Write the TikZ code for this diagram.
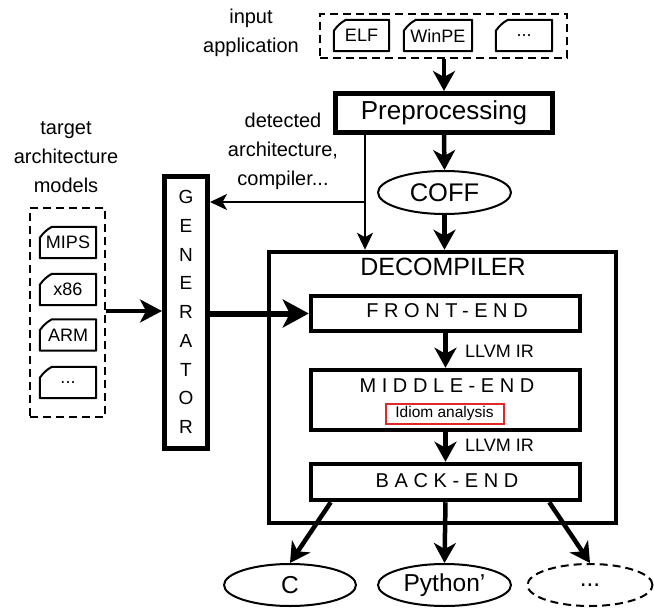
\documentclass[tikz,border=0pt]{standalone}
\usepackage{fontspec}
\setmainfont{Liberation Sans}
\usetikzlibrary{arrows.meta,shapes.geometric}
\definecolor{idiomred}{RGB}{225,40,40}
\begin{document}
\begin{tikzpicture}[x=1pt,y=-1pt,
  lbl/.style={font=\fontsize{20}{29}\selectfont, align=center, inner sep=0},
  docbox/.style={minimum width=56pt, minimum height=31pt, inner sep=0, font=\fontsize{18}{20}\selectfont},
  dashbox/.style={draw, line width=2pt, dash pattern=on 8pt off 5pt, inner sep=0},
  heavybox/.style={draw, line width=4.5pt, inner sep=0},
  stagebox/.style={draw, line width=4.5pt, inner sep=0, minimum width=269pt},
  spaced/.style={font=\fontsize{20}{24}\selectfont\addfontfeature{LetterSpace=28}, inner sep=0},
  oval/.style={draw, ellipse, line width=2pt, minimum width=133pt, minimum height=43pt, inner sep=0, font=\fontsize{24.5}{28}\selectfont},
  bigarrow/.style={line width=4.5pt, -{Stealth[length=20pt, width=22pt, inset=6pt]}},
  hugearrow/.style={line width=6pt, -{Stealth[length=26pt, width=28pt, inset=7pt]}},
  midarrow/.style={line width=3.5pt, -{Stealth[length=22pt, width=23pt, inset=6pt]}},
  thinarrow/.style={line width=2pt, -{Stealth[length=17pt, width=16pt, inset=4.5pt]}},
  irlbl/.style={font=\fontsize{18}{20}\selectfont, anchor=west, inner sep=0}
]
\useasboundingbox (0,0) rectangle (654,608);

% input application
\node[lbl] (inlbl) at (251,33) {input\\application};
\node[dashbox, minimum width=247pt, minimum height=44pt] (inbox) at (443.5,36) {};
\node[docbox, minimum width=55pt] (elf) at (361.5,35.5) {ELF};
\node[docbox, minimum width=68pt] (winpe) at (438,35.5) {WinPE};
\node[docbox] (dots1) at (524,35.5) {...};

% target models
\node[lbl] (tlbl) at (66,157) {target\\architecture\\models};
\node[dashbox, minimum width=75pt, minimum height=209pt] (tbox) at (67.5,312.5) {};
\node[docbox] (mips) at (68,242.5) {MIPS};
\node[docbox] (x86) at (68,289.5) {x86};
\node[docbox] (arm) at (68,335) {ARM};
\node[docbox] (dots2) at (68,382.5) {...};

\foreach \d in {elf,winpe,dots1,mips,x86,arm,dots2}{
  \draw[line width=2pt, line join=round]
    (\d.south west) -- (\d.south east) -- (\d.north east)
    -- ([xshift=12pt]\d.north west)
    to[bend right=12] ([yshift=-11pt]\d.north west) -- cycle;
}

% preprocessing
\node[heavybox, line width=5pt, minimum width=217pt, minimum height=39pt,
      font=\fontsize{26}{30}\selectfont] (prep) at (444,113) {Preprocessing};
\node[oval] (coff) at (444.5,192.5) {\fontsize{25.5}{28}\selectfont COFF};
\node[lbl] (detlbl) at (283,151) {detected\\architecture,\\compiler...};

% generator
\node[heavybox, line width=5pt, minimum width=43pt, minimum height=272pt] (gen) at (186,312.5) {};
\node[align=center, inner sep=0, font=\fontsize{19}{28.75}\selectfont] (gentxt) at (186,312)
  {G\\E\\N\\E\\R\\A\\T\\O\\R};

% decompiler
\node[heavybox, minimum width=347pt, minimum height=271pt] (dec) at (442.5,387.5) {};
\node[inner sep=0, font=\fontsize{25}{28}\selectfont] (dectxt) at (443,266.5) {DECOMPILER};
\node[stagebox, minimum height=35pt] (front) at (445.5,313.5) {};
\node[spaced] (fronttxt) at (447,310.5) {FRONT-END};
\node[stagebox, minimum height=60pt] (middle) at (445.5,400) {};
\node[spaced] (middletxt) at (447,386) {MIDDLE-END};
\node[draw=idiomred, line width=2pt, minimum width=118pt, minimum height=20pt, inner sep=0,
      font=\fontsize{15.5}{18}\selectfont] (idiom) at (444.5,413.5) {Idiom analysis};
\node[stagebox, minimum height=36pt] (back) at (445.5,482) {};
\node[spaced] (backtxt) at (447,480.5) {BACK-END};
\node[irlbl] (ir1) at (465,351) {LLVM IR};
\node[irlbl] (ir2) at (465,445) {LLVM IR};

% outputs
\node[oval, minimum width=132pt, minimum height=42pt] (cout) at (290,585) {C};
\node[oval, minimum height=42pt] (pyout) at (444.5,585) {Python’};
\node[oval, dash pattern=on 8pt off 5pt, minimum width=125pt, minimum height=42pt] (dotsout) at (590,585) {...};

% connectors
\draw[bigarrow] (prep.north |- inbox.south) -- (prep.north);
\draw[bigarrow] (prep.south) -- (coff.north);
\coordinate (tap) at (365,133);
\coordinate (split) at (365,202);
\draw[thinarrow] (tap) -- (tap |- dec.north);
\draw[thinarrow] (split) -- (split -| gen.east);
\draw[bigarrow] (coff.south) -- (coff.south |- dec.north);
\draw[midarrow] (tbox.east |- 0,311) -- (gen.west |- 0,311);
\draw[hugearrow] (gen.east |- front.west) -- (front.west);
\draw[bigarrow] (front.south) -- (middle.north);
\draw[bigarrow] (middle.south) -- (back.north);
\draw[bigarrow] ([xshift=22pt]back.south west) -- (cout.north);
\draw[bigarrow] (back.south) -- (pyout.north);
\draw[bigarrow] ([xshift=-33pt]back.south east) -- (dotsout.north);
\end{tikzpicture}
\end{document}
